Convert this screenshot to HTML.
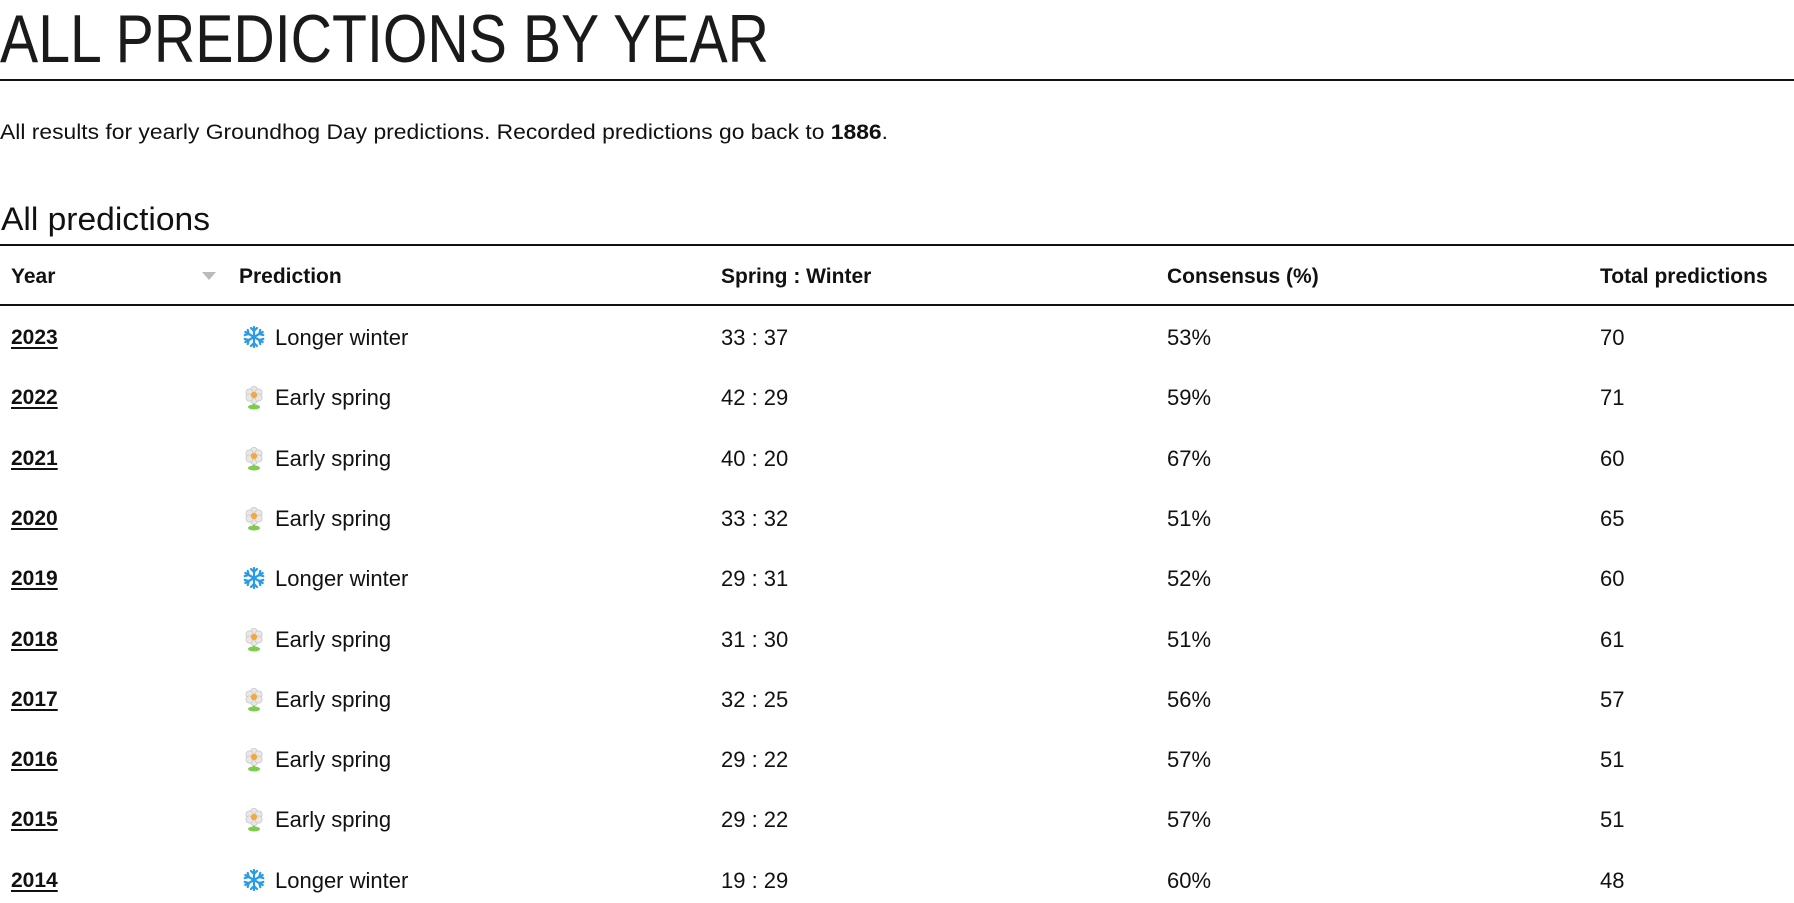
<!DOCTYPE html>
<html><head><meta charset="utf-8">
<style>
html,body{margin:0;padding:0;background:#fff;width:1794px;height:903px;overflow:hidden;font-family:"Liberation Sans",sans-serif;color:#111;}
.a{position:absolute;white-space:nowrap;}
.fit{transform-origin:0 50%;display:inline-block;}
.hr{position:absolute;left:0;width:1794px;background:#111;}
.c{position:absolute;font-size:22px;line-height:24px;white-space:nowrap;}
.y{text-decoration:underline;text-decoration-thickness:2px;text-underline-offset:3px;color:#111;font-weight:bold;font-size:21px;}
.h{font-weight:bold;font-size:21px;}
</style></head><body>
<div class="a" style="left:0;top:4px;font-size:68px;line-height:70px;color:#1a1a1a;"><span class="fit" data-w="769">ALL PREDICTIONS BY YEAR</span></div>
<div class="hr" style="top:79px;height:2px;"></div>
<div class="a" style="left:0;top:121px;font-size:21px;line-height:24px;"><span class="fit" data-w="888">All results for yearly Groundhog Day predictions. Recorded predictions go back to <b>1886</b>.</span></div>
<div class="a" style="left:1px;top:201px;font-size:32px;line-height:36px;"><span class="fit" data-w="209">All predictions</span></div>
<div class="hr" style="top:244px;height:1.5px;"></div>
<div class="hr" style="top:304px;height:1.5px;"></div>
<div>
<div class="c h" style="left:11px;top:265px;">Year</div>
<div class="a" style="left:202px;top:272px;width:0;height:0;border-left:7px solid transparent;border-right:7px solid transparent;border-top:8px solid #bbb;"></div>
<div class="c h" style="left:239px;top:265px;">Prediction</div>
<div class="c h" style="left:721px;top:265px;">Spring : Winter</div>
<div class="c h" style="left:1167px;top:265px;">Consensus (%)</div>
<div class="c h" style="left:1600px;top:265px;">Total predictions</div>
</div>
<div id="rows"></div>
<script>
const years=[2023,2022,2021,2020,2019,2018,2017,2016,2015,2014];
const preds=["w","s","s","s","w","s","s","s","s","w"];
const spring=[33,42,40,33,29,31,32,29,29,19];
const winter=[37,29,20,32,31,30,25,22,22,29];
const consensus=[53,59,67,51,52,51,56,57,57,60];
const totals=[70,71,60,65,60,61,57,51,51,48];
const snow='<svg width="22" height="22" viewBox="-11 -11 22 22"><g stroke="#2a9be6" stroke-width="2.2" stroke-linecap="round" fill="none">'+[0,60,120].map(a=>`<g transform="rotate(${a})"><line x1="0" y1="-10" x2="0" y2="10"/><polyline points="-3,-9 0,-6 3,-9"/><polyline points="-3,9 0,6 3,9"/></g>`).join('')+'</g></svg>';
const flower='<svg width="22" height="24" viewBox="0 0 22 24"><path d="M11 14 L11 21" stroke="#6cc04a" stroke-width="2"/><ellipse cx="11" cy="21" rx="6" ry="2.5" fill="#7ccc4e"/><g fill="#e8e8e8" stroke="#c8c8c8" stroke-width="0.8"><circle cx="11" cy="4" r="3.6"/><circle cx="11" cy="14" r="3.6"/><circle cx="6.5" cy="6.5" r="3.6"/><circle cx="15.5" cy="6.5" r="3.6"/><circle cx="6.5" cy="11.5" r="3.6"/><circle cx="15.5" cy="11.5" r="3.6"/></g><circle cx="11" cy="9" r="3.2" fill="#f5a742"/></svg>';
const rows=document.getElementById('rows');
const rowTop=326, rowH=60.3;
years.forEach((y,i)=>{
  const t=rowTop+i*rowH;
  const r=document.createElement('div');
  
  
  const w=preds[i]==='w';
  r.innerHTML=`<a class="c y" style="left:11px;top:${t}px;">${y}</a>`+
  `<div class="a" style="left:243px;top:${t}px;">${w?snow:flower}</div>`+
  `<div class="c" style="left:275px;top:${t}px;">${w?'Longer winter':'Early spring'}</div>`+
  `<div class="c" style="left:721px;top:${t}px;">${spring[i]} : ${winter[i]}</div>`+
  `<div class="c" style="left:1167px;top:${t}px;">${consensus[i]}%</div>`+
  `<div class="c" style="left:1600px;top:${t}px;">${totals[i]}</div>`;
  rows.appendChild(r);
});
document.querySelectorAll('.fit').forEach(e=>{
  const w=e.getBoundingClientRect().width, tw=+e.dataset.w;
  if(w>0) e.style.transform='scaleX('+(tw/w)+')';
});
</script>
</body></html>
